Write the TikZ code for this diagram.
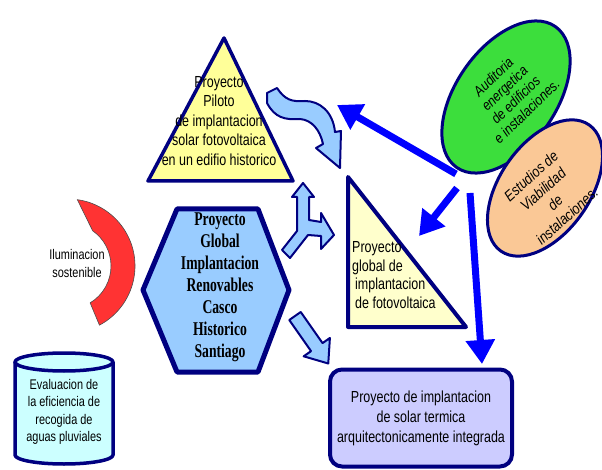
\documentclass[tikz,border=0pt]{standalone}
\usepackage{fontspec}
\setmainfont{Liberation Sans}[FakeStretch=0.78]
\newfontfamily\hexfont{Liberation Serif}[FakeStretch=0.7]
\newfontfamily\bubblefont{Liberation Sans}[FakeStretch=0.85]
\usetikzlibrary{arrows.meta,shapes.geometric}
\definecolor{navy}{RGB}{0,0,128}
\definecolor{paleyellow}{RGB}{255,255,153}
\definecolor{creamyellow}{RGB}{255,255,204}
\definecolor{skyblue}{RGB}{153,204,255}
\definecolor{pureblue}{RGB}{0,0,255}
\definecolor{leafgreen}{RGB}{60,222,60}
\definecolor{peach}{RGB}{250,200,150}
\definecolor{lavender}{RGB}{204,204,255}
\definecolor{paleaqua}{RGB}{204,255,255}
\definecolor{lampred}{RGB}{255,51,51}
\tikzstyle{outline} = [draw=navy, line width=3.5pt, line join=round]
\tikzstyle{txt} = [align=center, inner sep=0pt, font=\fontsize{16}{19.5}\selectfont]
\tikzstyle{flowarrow} = [draw=navy, line width=2pt, fill=skyblue, line join=round]
\tikzstyle{linkarrow} = [pureblue, line width=7pt, -{Triangle[length=24pt,width=28pt]}]
\tikzstyle{bubble} = [ellipse, draw=navy, line width=3pt, rotate=55]

\begin{document}
\begin{tikzpicture}[x=1pt,y=-1pt]
\useasboundingbox (0,0) rectangle (602,470);

%pilot triangle
\draw[outline, fill=paleyellow] (224,38) -- (293,181) -- (148,181) -- cycle;
\node[txt] (piloto) at (219,121)
  {Proyecto\\Piloto\\de implantacion\\solar fotovoltaica\\en un edifio historico};

%right triangle
\draw[outline, line width=4pt, fill=creamyellow] (348,177) -- (466,327) -- (348,327) -- cycle;
\node[txt, align=left, anchor=west, font=\fontsize{16}{18.5}\selectfont] (fotovoltaica) at (352,275)
  {Proyecto\\global de\\\hspace{3pt}implantacion\\\hspace{3pt}de fotovoltaica};

%hexagon
\draw[outline, line width=5pt, fill=skyblue]
  (143,290) -- (177,209) -- (258,209) -- (289,290) -- (258,372) -- (177,372) -- cycle;
\node[txt, font=\hexfont\bfseries\fontsize{19.5}{22}\selectfont] (global) at (220,287)
  {Proyecto\\Global\\Implantacion\\Renovables\\Casco\\Historico\\Santiago};

%lighting
\draw[fill=lampred, draw=gray!60!black, line width=0.6pt]
  ([shift={(-82:67)}]68,266) arc[start angle=-82, end angle=62, radius=67]
  -- ([shift={(59:43)}]68,266) arc[start angle=59, end angle=-55, radius=43] -- cycle;
\node[txt, font=\fontsize{14}{18}\selectfont] (ilum) at (77,263) {Iluminacion\\sostenible};

%rain water tank
\draw[outline, fill=paleaqua] (15,362) -- (15,455)
  arc[start angle=180, end angle=0, x radius=49, y radius=9] -- (113,362);
\draw[outline, fill=paleaqua] (64,362) ellipse [x radius=49, y radius=9];
\node[txt, font=\fontsize{14}{17.5}\selectfont] (pluviales) at (64,412)
  {Evaluacion de\\la eficiencia de\\recogida de\\aguas pluviales};

%solar thermal
\node[txt, draw=navy, line width=4pt, fill=lavender, rounded corners=12pt,
      minimum width=182pt, minimum height=97pt, font=\fontsize{16}{20}\selectfont] (solar) at (421,418)
  {Proyecto de implantacion\\de solar termica\\arquitectonicamente integrada};

%bubbles
\node[bubble, fill=leafgreen, minimum width=172pt, minimum height=100pt] (audit) at (506,97) {};
\node[txt, rotate=44, font=\bubblefont\itshape\fontsize{14.5}{16}\selectfont] (audittxt) at (510,94)
  {Auditoria\\energetica\\de edificios\\e instalaciones.};
\node[bubble, fill=peach, minimum width=154pt, minimum height=90pt] (estudios) at (545,188) {};
\node[txt, rotate=42, font=\bubblefont\itshape\fontsize{15}{18}\selectfont] (estudiostxt) at (549,196)
  {Estudios de\\Viabilidad\\de\\instalaciones.};

%block arrows
\draw[flowarrow] (267,93) -- (277,88) .. controls (285,100) and (292,102) .. (305,101)
  .. controls (320,101) and (333,112) .. (335,132) -- (341,131) -- (340,168) -- (316,148)
  -- (323,144) .. controls (320,130) and (312,120) .. (300,119)
  .. controls (285,120) and (275,118) .. (267,103) -- cycle;
\draw[flowarrow] (303,183) -- (314,197) -- (309,197) -- (309,220) -- (321,222) -- (321,213)
  -- (334,235) -- (321,249) -- (321,236) -- (308,235) -- (290,258) -- (282,250)
  -- (297,231) -- (297,197) -- (292,197) -- cycle;
\begin{scope}[shift={(295,316)}, rotate=-55]
  \draw[flowarrow] (0,-7) -- (38,-7) -- (38,-16) -- (58,0) -- (38,16) -- (38,7) -- (0,7) -- cycle;
\end{scope}

%links
\coordinate (fromA) at (456,174);
\coordinate (fromB) at (457,188);
\coordinate (fromC) at (470,193);
\coordinate (toA) at (337,105);
\coordinate (toB) at (419,236);
\coordinate (toC) at (482,364);
\foreach \a/\b in {fromA/toA, fromB/toB, fromC/toC}
  \draw[linkarrow] (\a) -- (\b);

\end{tikzpicture}
\end{document}
